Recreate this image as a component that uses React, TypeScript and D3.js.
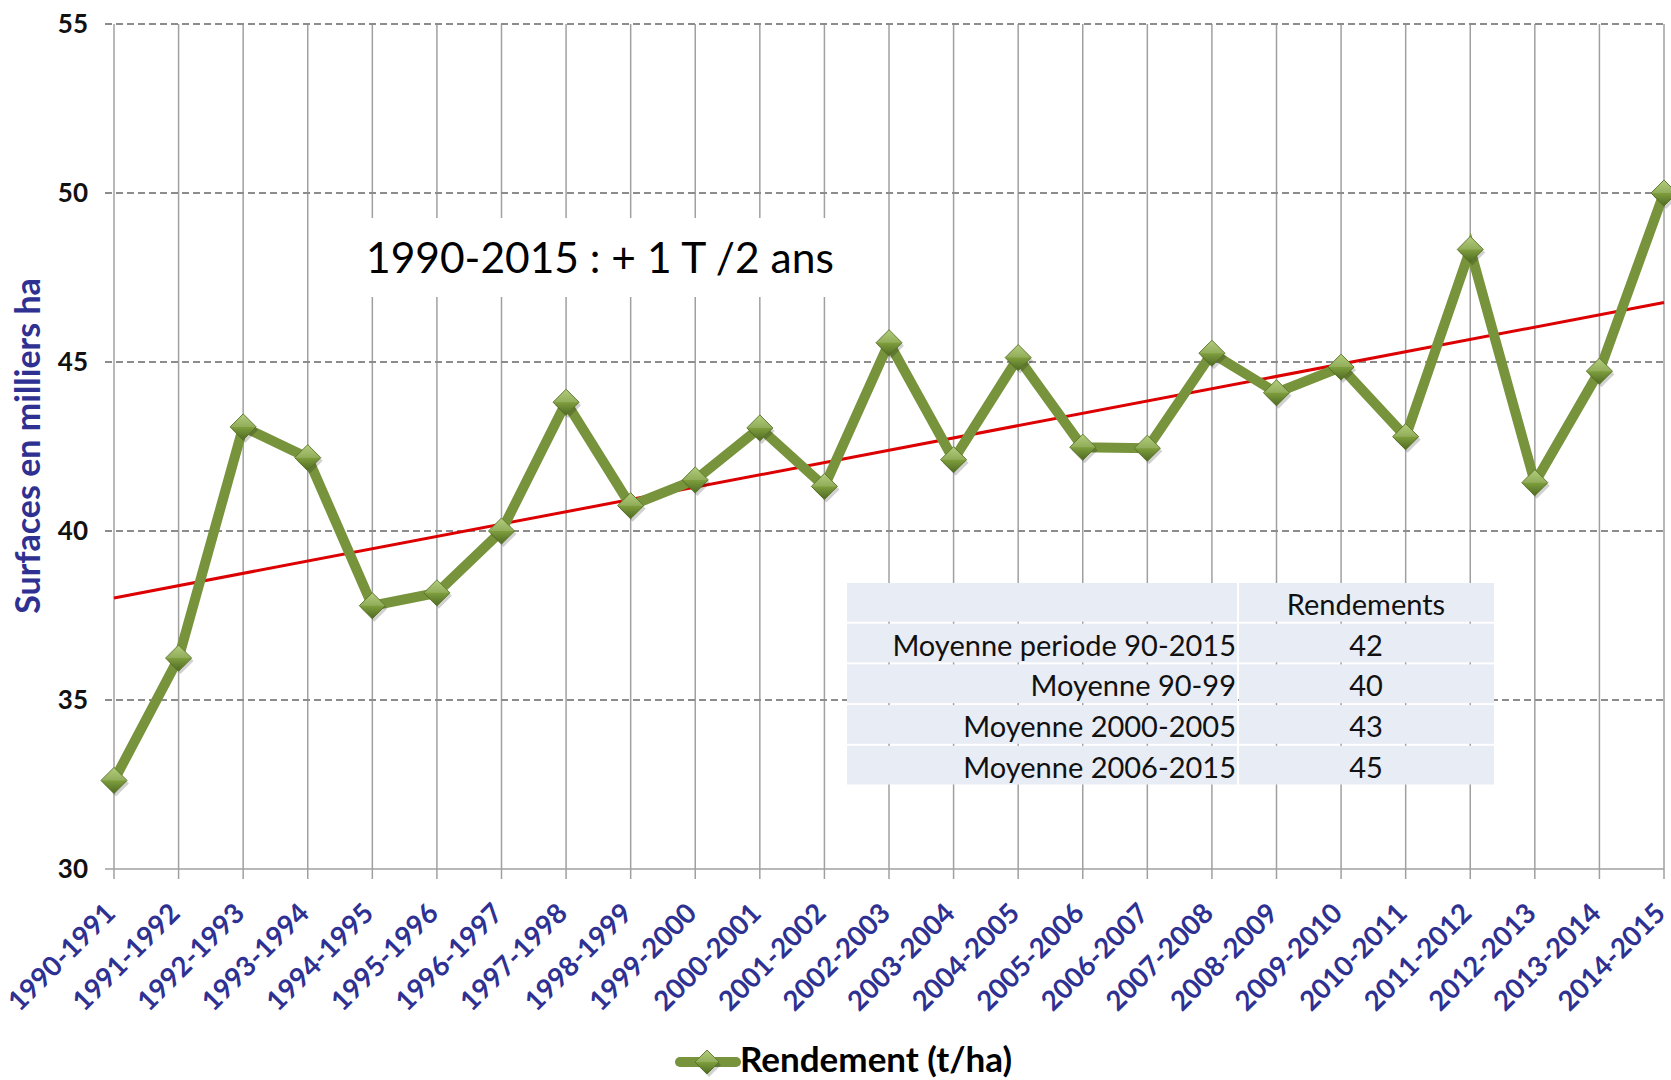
import * as d3 from 'd3';

const categories = [
  '1990-1991', '1991-1992', '1992-1993', '1993-1994', '1994-1995', '1995-1996',
  '1996-1997', '1997-1998', '1998-1999', '1999-2000', '2000-2001', '2001-2002',
  '2002-2003', '2003-2004', '2004-2005', '2005-2006', '2006-2007', '2007-2008',
  '2008-2009', '2009-2010', '2010-2011', '2011-2012', '2012-2013', '2013-2014',
  '2014-2015',
];

const rendement = [
  32.62, 36.24, 43.08, 42.17, 37.79, 38.17, 40.0, 43.81, 40.75, 41.51, 43.05,
  41.32, 45.57, 42.11, 45.13, 42.48, 42.45, 45.26, 44.09, 44.85, 42.79, 48.33,
  41.43, 44.73, 50.0,
];

// trend line end values (first / last category)
const trendEnds = [38.02, 46.76];

const yTicks = [30, 35, 40, 45, 50, 55];

const tableHeader = 'Rendements';
const tableLabels = ['Moyenne periode 90-2015', 'Moyenne 90-99', 'Moyenne 2000-2005', 'Moyenne 2006-2015'];
const tableValues = ['42', '40', '43', '45'];

const annotation = '1990-2015 : + 1 T /2 ans';
const legendLabel = 'Rendement (t/ha)';
const yTitle = 'Surfaces en milliers ha';

const W = 1671;
const H = 1080;
const margin = { top: 24, right: 7, bottom: 211, left: 114 };
const font = 'Lato, Carlito, Calibri, sans-serif';
const blue = '#2e3192';
const green = '#77933c';

function Diamond({ cx, cy, r = 13 }: { cx: number; cy: number; r?: number }) {
  const d = `M${cx},${cy - r}L${cx + r},${cy}L${cx},${cy + r}L${cx - r},${cy}Z`;
  return (
    <g>
      <path d={d} transform="translate(2,3)" fill="rgba(0,0,0,0.18)" />
      <path d={d} fill="url(#mk)" stroke="#587326" strokeWidth={1} />
      <path d={`M${cx - r},${cy}L${cx},${cy - r}L${cx + r},${cy}Z`} fill="rgba(255,255,255,0.15)" />
    </g>
  );
}

export default function App() {
  const innerB = H - margin.bottom;
  const x = d3.scalePoint<string>().domain(categories).range([margin.left, W - margin.right]);
  const y = d3.scaleLinear().domain([30, 55]).range([innerB, margin.top]);

  const line = d3
    .line<number>()
    .x((_, i) => x(categories[i]) as number)
    .y((d) => y(d));

  const x0 = x(categories[0]) as number;
  const x1 = x(categories[categories.length - 1]) as number;

  // table layout
  const tX = 847;
  const tSplit = 1238;
  const tRight = 1494;
  const tTop = 583;
  const rowH = 40.7;
  const gap = 2;
  const rows = [tableHeader, ...tableLabels];

  return (
    <svg
      width={W}
      height={H}
      style={{ position: 'absolute', left: 0, top: 0, background: '#fff' }}
      fontFamily={font}
    >
      <defs>
        <linearGradient id="mk" x1="0" y1="0" x2="0" y2="1">
          <stop offset="0" stopColor="#a4c465" />
          <stop offset="0.5" stopColor="#7f9f3d" />
          <stop offset="1" stopColor="#4f6a24" />
        </linearGradient>
      </defs>

      {/* vertical gridlines */}
      {categories.map((c) => (
        <line
          key={`vg-${c}`}
          x1={x(c)}
          x2={x(c)}
          y1={margin.top}
          y2={innerB + 10}
          stroke="#a0a0a0"
          strokeWidth={1.5}
        />
      ))}

      {/* horizontal gridlines */}
      {yTicks.map((t) => (
        <g key={`hg-${t}`}>
          <line
            x1={margin.left - 9}
            x2={x1}
            y1={y(t)}
            y2={y(t)}
            stroke={t === 30 ? '#a0a0a0' : '#8c8c8c'}
            strokeWidth={t === 30 ? 1.5 : 2}
            strokeDasharray={t === 30 ? undefined : '7,4'}
          />
          <text
            x={88}
            y={y(t)}
            dy="0.36em"
            textAnchor="end"
            fontSize={26}
            fontWeight={700}
            fill="#111"
          >
            {t}
          </text>
        </g>
      ))}

      {/* annotation box */}
      <rect x={340} y={218} width={512} height={79} fill="#fff" />
      <text x={366} y={273} fontSize={42.5} fill="#000">
        {annotation}
      </text>

      {/* averages table */}
      {rows.map((r, i) => {
        const top = tTop + i * rowH;
        const h = rowH - gap;
        return (
          <g key={`row-${i}`}>
            <rect x={tX} y={top} width={tSplit - tX - 1} height={h} fill="#e8ecf4" />
            <rect x={tSplit + 1} y={top} width={tRight - tSplit - 1} height={h} fill="#e8ecf4" />
            {i === 0 ? (
              <text x={(tSplit + tRight) / 2} y={top + 32} textAnchor="middle" fontSize={29} fill="#111">
                {r}
              </text>
            ) : (
              <>
                <text x={tSplit - 2} y={top + 32} textAnchor="end" fontSize={29} fill="#111">
                  {r}
                </text>
                <text x={(tSplit + tRight) / 2} y={top + 32} textAnchor="middle" fontSize={29} fill="#111">
                  {tableValues[i - 1]}
                </text>
              </>
            )}
          </g>
        );
      })}

      {/* trend line */}
      <line
        x1={x0}
        x2={x1}
        y1={y(trendEnds[0])}
        y2={y(trendEnds[1])}
        stroke="#dd0000"
        strokeWidth={3}
      />

      {/* series */}
      <path
        d={line(rendement) ?? undefined}
        fill="none"
        stroke={green}
        strokeWidth={10}
        strokeLinejoin="miter"
        strokeMiterlimit={10}
      />
      {rendement.map((v, i) => (
        <Diamond key={`m-${i}`} cx={x(categories[i]) as number} cy={y(v)} />
      ))}

      {/* category labels */}
      {categories.map((c) => (
        <text
          key={`xl-${c}`}
          transform={`translate(${(x(c) as number) + 3}, ${innerB + 46}) rotate(-45)`}
          textAnchor="end"
          fontSize={27.5}
          fontWeight={700}
          fill={blue}
        >
          {c}
        </text>
      ))}

      {/* y title */}
      <text
        transform={`translate(40, 446) rotate(-90)`}
        textAnchor="middle"
        fontSize={34}
        fontWeight={700}
        fill={blue}
      >
        {yTitle}
      </text>

      {/* legend */}
      <line x1={680} x2={736} y1={1062} y2={1062} stroke={green} strokeWidth={10} strokeLinecap="round" />
      <Diamond cx={707} cy={1062} r={12} />
      <text x={740} y={1072} fontSize={35} fontWeight={700} fill="#000">
        {legendLabel}
      </text>
    </svg>
  );
}
